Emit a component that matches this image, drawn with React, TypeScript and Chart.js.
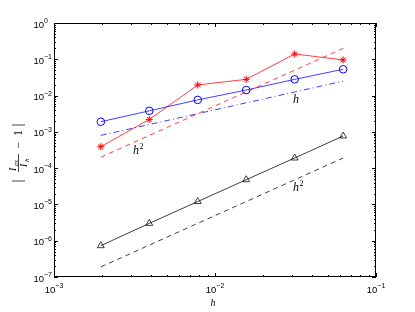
import React, { useEffect, useRef } from 'react';
import { Chart, registerables } from 'chart.js';
Chart.register(...registerables);

// step sizes h
const H = [0.001953125, 0.00390625, 0.0078125, 0.015625, 0.03125, 0.0625];
// error series
const errBlack = [7.3e-7, 3.0e-6, 1.2e-5, 4.8e-5, 1.9e-4, 7.7e-4];
const errBlue = [1.9e-3, 3.8e-3, 7.6e-3, 1.42e-2, 2.8e-2, 5.3e-2];
const errRed = [3.9e-4, 2.2e-3, 1.96e-2, 2.8e-2, 0.14, 0.096];
// reference slopes (endpoints)
const refX = [0.001953125, 0.0625];
const refRedH2 = [2.0e-4, 0.2];
const refBlueH = [8.0e-4, 0.025];
const refBlackH2 = [1.9e-7, 1.9e-4];
// tick decades
const xDecades = [-3, -2, -1];
const yDecades = [-7, -6, -5, -4, -3, -2, -1, 0];
// slope annotations
const notes = [
  { base: 'h', sup: '2', x: 0.0031, y: 2.95e-4 },
  { base: 'h', sup: '', x: 0.0305, y: 7.6e-3 },
  { base: 'h', sup: '2', x: 0.0305, y: 2.85e-5 },
];

const pts = (xs: number[], ys: number[]) => xs.map((x, i) => ({ x, y: ys[i] }));

const SANS = '"Liberation Sans", Arial, Helvetica, sans-serif';
const SERIF = '"Liberation Serif", "Times New Roman", serif';
const LW = 0.75;

function drawPow(ctx: CanvasRenderingContext2D, exp: number, px: number, py: number, mode: 'x' | 'y') {
  const base = '10';
  const e = exp === 0 ? '0' : '\u2212' + Math.abs(exp);
  ctx.font = `9.5px ${SANS}`;
  const wb = ctx.measureText(base).width;
  ctx.font = `7px ${SANS}`;
  const we = ctx.measureText(e).width;
  let sx: number, by: number;
  if (mode === 'y') {
    sx = 44 - wb;
    by = py + 2;
  } else {
    sx = px - (wb + we) / 2;
    by = py;
  }
  ctx.textBaseline = 'middle';
  ctx.textAlign = 'left';
  ctx.font = `9.5px ${SANS}`;
  ctx.fillText(base, sx, by);
  ctx.font = `7px ${SANS}`;
  ctx.fillText(e, sx + wb, by - 4);
}

const framePlugin = {
  id: 'frame',
  afterDatasetsDraw(chart: any) {
    const { ctx, chartArea: a, scales } = chart;
    const xs = scales.x, ys = scales.y;
    ctx.save();
    ctx.strokeStyle = '#000';
    ctx.fillStyle = '#000';
    ctx.lineWidth = 1;
    ctx.setLineDash([]);
    ctx.strokeRect(a.left + 0.5, a.top + 0.5, a.right - a.left - 1, a.bottom - a.top - 1);
    ctx.beginPath();
    for (const d of xDecades) {
      for (let m = 1; m <= 9; m++) {
        const v = m * Math.pow(10, d);
        if (v < 1e-3 - 1e-12 || v > 1e-1 + 1e-12) continue;
        const p = Math.round(xs.getPixelForValue(v)) + 0.5;
        const len = m === 1 ? 4 : 2;
        ctx.moveTo(p, a.bottom);
        ctx.lineTo(p, a.bottom - len);
        ctx.moveTo(p, a.top);
        ctx.lineTo(p, a.top + len);
      }
    }
    for (const d of yDecades) {
      for (let m = 1; m <= 9; m++) {
        const v = m * Math.pow(10, d);
        if (v < 1e-7 * 0.999 || v > 1.001) continue;
        const p = Math.round(ys.getPixelForValue(v)) + 0.5;
        const len = m === 1 ? 4 : 2;
        ctx.moveTo(a.left, p);
        ctx.lineTo(a.left + len, p);
        ctx.moveTo(a.right, p);
        ctx.lineTo(a.right - len, p);
      }
    }
    ctx.stroke();

    for (const d of xDecades) drawPow(ctx, d, xs.getPixelForValue(Math.pow(10, d)), 290, 'x');
    for (const d of yDecades) drawPow(ctx, d, 0, ys.getPixelForValue(Math.pow(10, d)), 'y');

    // x label
    ctx.font = `italic 10px ${SERIF}`;
    ctx.textAlign = 'center';
    ctx.textBaseline = 'middle';
    ctx.fillText('h', 213, 303);

    // slope notes
    for (const n of notes) {
      const px = xs.getPixelForValue(n.x);
      const py = ys.getPixelForValue(n.y);
      ctx.textAlign = 'left';
      ctx.textBaseline = 'middle';
      ctx.font = `italic 12px ${SERIF}`;
      ctx.fillText(n.base, px, py);
      const w = ctx.measureText(n.base).width;
      if (n.sup) {
        ctx.font = `8px ${SERIF}`;
        ctx.fillText(n.sup, px + w + 0.5, py - 4);
      }
    }

    // y label |I_ex / I_h - 1|
    ctx.translate(18, 154);
    ctx.rotate(-Math.PI / 2);
    ctx.strokeStyle = '#444';
    ctx.lineWidth = 1;
    ctx.beginPath();
    ctx.moveTo(-27, -6); ctx.lineTo(-27, 7);
    ctx.moveTo(29, -6); ctx.lineTo(29, 7);
    ctx.moveTo(-18, 0.5); ctx.lineTo(0, 0.5);
    ctx.stroke();
    ctx.textBaseline = 'alphabetic';
    ctx.textAlign = 'left';
    ctx.font = `italic 10px ${SERIF}`;
    ctx.fillText('I', -17, -2);
    ctx.font = `italic 7px ${SERIF}`;
    ctx.fillText('ex', -12, -0.5);
    ctx.font = `italic 10px ${SERIF}`;
    ctx.fillText('I', -13, 9);
    ctx.font = `italic 7px ${SERIF}`;
    ctx.fillText('h', -8, 10.5);
    ctx.textBaseline = 'middle';
    ctx.textAlign = 'center';
    ctx.font = `12px ${SERIF}`;
    ctx.fillText('\u2212', 9, 1);
    ctx.fillText('1', 21, 1);
    ctx.restore();
  },
};

export default function App() {
  const ref = useRef<HTMLCanvasElement | null>(null);
  useEffect(() => {
    if (!ref.current) return;
    const chart = new Chart(ref.current, {
      type: 'line',
      data: {
        datasets: [
          {
            data: pts(refX, refBlackH2), borderColor: '#000', borderWidth: LW,
            borderDash: [5, 4], pointRadius: 0, fill: false,
          },
          {
            data: pts(refX, refRedH2), borderColor: '#ff0000', borderWidth: LW,
            borderDash: [5, 4], pointRadius: 0, fill: false,
          },
          {
            data: pts(refX, refBlueH), borderColor: '#0000ff', borderWidth: LW,
            borderDash: [6, 3, 1, 3], pointRadius: 0, fill: false,
          },
          {
            data: pts(H, errBlack), borderColor: '#000', borderWidth: LW,
            pointStyle: 'triangle', pointRadius: 4, pointBorderColor: '#000',
            pointBackgroundColor: 'rgba(0,0,0,0)', pointBorderWidth: LW, fill: false,
          },
          {
            data: pts(H, errBlue), borderColor: '#0000ff', borderWidth: LW,
            pointStyle: 'circle', pointRadius: 3.8, pointBorderColor: '#0000ff',
            pointBackgroundColor: 'rgba(0,0,0,0)', pointBorderWidth: 1, fill: false,
          },
          {
            data: pts(H, errRed), borderColor: '#ff0000', borderWidth: LW,
            pointStyle: 'star', pointRadius: 3.5, pointBorderColor: '#ff0000',
            pointBackgroundColor: '#ff0000', pointBorderWidth: 1, fill: false,
          },
        ],
      },
      options: {
        responsive: false,
        animation: false,
        devicePixelRatio: 1,
        layout: { padding: { left: 54, top: 23, right: 39, bottom: 35 } },
        scales: {
          x: { type: 'logarithmic', min: 1e-3, max: 1e-1, display: false },
          y: { type: 'logarithmic', min: 1e-7, max: 1, display: false },
        },
        plugins: { legend: { display: false }, tooltip: { enabled: false } },
        elements: { line: { tension: 0 } },
      },
      plugins: [framePlugin],
    } as any);
    return () => chart.destroy();
  }, []);
  return (
    <div style={{ position: 'absolute', left: 0, top: 0, width: 415, height: 312, background: '#fff' }}>
      <canvas ref={ref} width={415} height={312} style={{ display: 'block' }} />
    </div>
  );
}
